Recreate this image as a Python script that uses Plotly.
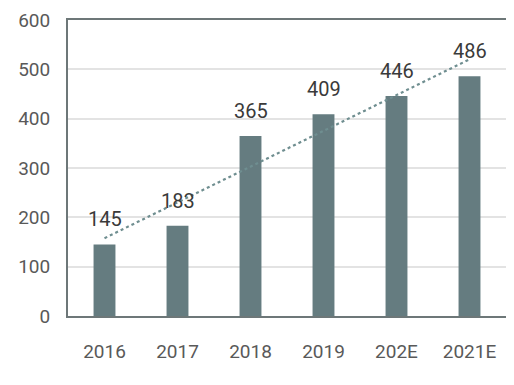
import numpy as np
import plotly.graph_objects as go

categories = ["2016", "2017", "2018", "2019", "202E", "2021E"]
values = [145, 183, 365, 409, 446, 486]
y_ticks = [0, 100, 200, 300, 400, 500, 600]

FONT = "Liberation Sans Narrow, Arial Narrow, Roboto, sans-serif"

idx = list(range(len(categories)))
slope, intercept = np.polyfit(idx, values, 1)
trend = [float(slope * i + intercept) for i in idx]

fig = go.Figure()
fig.add_trace(go.Bar(
    x=idx, y=values, width=0.3,
    marker=dict(color="#657c80", line=dict(width=0)),
    showlegend=False,
))
fig.add_trace(go.Scatter(
    x=idx, y=trend, mode="lines",
    line=dict(color="#6f8e90", width=2.2, dash="dot"),
    showlegend=False,
))
for i, v in zip(idx, values):
    fig.add_annotation(x=i, y=v, text=str(v), showarrow=False,
                       yshift=25, font=dict(family=FONT, size=20, color="#3a3a3a"))

# page body has an 8px default margin, so the figure is sized/offset to compensate
fig.update_layout(
    width=506, height=377,
    margin=dict(l=60, r=8, t=12, b=69),
    paper_bgcolor="white", plot_bgcolor="white",
    font=dict(family=FONT, size=19, color="#595959"),
    xaxis=dict(range=[-0.5, len(categories) - 0.5], tickvals=idx, ticktext=categories,
               automargin=False,
               showgrid=False, showline=True, mirror=True, linecolor="#6d7778", linewidth=2,
               zeroline=False, ticks="", ticklabelstandoff=17, tickfont=dict(size=19, color="#595959")),
    yaxis=dict(range=[0, 600], tickvals=y_ticks, showgrid=True, gridcolor="#e3e3e3", gridwidth=1.5,
               automargin=False,
               showline=True, mirror=True, linecolor="#6d7778", linewidth=2, zeroline=False,
               ticks="", ticklabelstandoff=12, tickfont=dict(size=19, color="#595959")),
)
fig.write_html("out.html")
